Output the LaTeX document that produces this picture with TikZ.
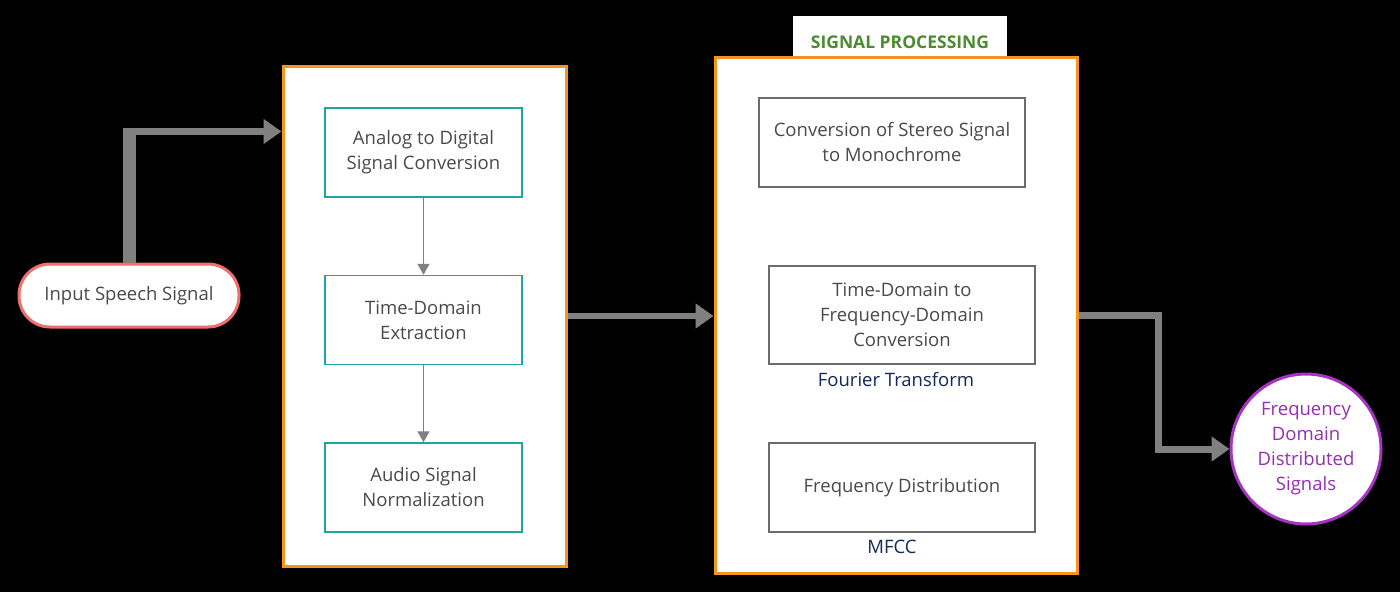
\documentclass[tikz,border=0pt]{standalone}
\usepackage{fontspec}
\setmainfont{Open Sans}
\usepackage{tikz}
\usetikzlibrary{arrows.meta,shapes,positioning}
\definecolor{frameorange}{HTML}{F7941D}
\definecolor{boxteal}{HTML}{1FA3A3}
\definecolor{boxgray}{HTML}{6B6B6B}
\definecolor{textgray}{HTML}{4A4A4A}
\definecolor{flowgray}{HTML}{808080}
\definecolor{labelnavy}{HTML}{14285A}
\definecolor{pillred}{HTML}{EF6F6F}
\definecolor{endpurple}{HTML}{A634C2}
\definecolor{titlegreen}{HTML}{4C8B32}
\tikzstyle{frame}=[draw=frameorange,line width=3pt,fill=white,inner sep=0pt]
\tikzstyle{teal box}=[draw=boxteal,line width=1.5pt,fill=white,minimum width=197pt,minimum height=89pt,align=center,text=textgray,font=\fontsize{18.5}{25}\selectfont]
\tikzstyle{gray box}=[teal box,draw=boxgray,minimum width=266pt]
\tikzstyle{flow}=[draw=flowgray,line width=8pt,-{Triangle[length=18pt,width=24pt]}]
\tikzstyle{thin flow}=[draw=flowgray,line width=1.5pt,-{Triangle[length=11pt,width=12pt]}]
\tikzstyle{caption}=[text=labelnavy,font=\fontsize{18.5}{25}\selectfont,inner sep=0pt]

\begin{document}
\begin{tikzpicture}[x=1pt,y=-1pt]
    \fill[black] (0,0) rectangle (1400,592);
    \useasboundingbox (0,0) rectangle (1400,592);
    % frames
    \node[fill=white,minimum width=214pt,minimum height=52pt,text=titlegreen,font=\fontsize{17.5}{20}\selectfont\bfseries] (title) at (900,42) {SIGNAL PROCESSING};
    \node[frame,minimum width=283pt,minimum height=500pt] (pre) at (424.5,316) {};
    \node[frame,minimum width=362pt,minimum height=516pt] (post) at (896,315) {};
    % left stages
    \foreach \pos/\name/\lbl in {{(423.5,152.5)/adc/{Analog to Digital\\Signal Conversion}}, {(423.5,320)/tde/{Time-Domain\\Extraction}}, {(423.5,487.5)/norm/{Audio Signal\\Normalization}}}
        \node[teal box] (\name) at \pos {\lbl};
    \foreach \source/ \dest in {adc/tde, tde/norm}
        \path[thin flow] (\source) -- (\dest);
    % right stages
    \node[gray box] (mono) at (892,142.5) {Conversion of Stereo Signal\\to Monochrome};
    \node[gray box,minimum height=98pt] (ft) at (902,315) {Time-Domain to\\Frequency-Domain\\Conversion};
    \node[gray box] (dist) at (902,487.5) {Frequency Distribution};
    \node[caption,below=7pt of ft,xshift=-6pt] (ftlbl) {Fourier Transform};
    \node[caption,below=7pt of dist,xshift=-10pt] (mfcc) {MFCC};
    % ends
    \node[draw=pillred,line width=3pt,fill=white,rounded corners=31pt,minimum width=220pt,minimum height=63pt,text=textgray,font=\fontsize{18.5}{25}\selectfont] (speech) at (129,295.5) {Input Speech Signal};
    \node[circle,draw=endpurple,line width=3pt,fill=white,minimum size=150pt,inner sep=0pt,align=center,text=endpurple!90!black,font=\fontsize{18.5}{25}\selectfont] (freq) at (1306,449) {Frequency\\Domain\\Distributed\\Signals};
    % connectors
    \path[flow,-,line width=13pt] (speech.north) -- (speech.north |- 0,128);
    \path[flow,line width=7pt] (speech.north |- 0,131.5) -- (pre.west |- 0,131.5);
    \path[flow,line width=6pt] (pre.east) -- (pre.east -| post.west);
    \path[flow,line width=7pt] (post.east) -- ++(80,0) |- (freq.west);
\end{tikzpicture}
\end{document}
